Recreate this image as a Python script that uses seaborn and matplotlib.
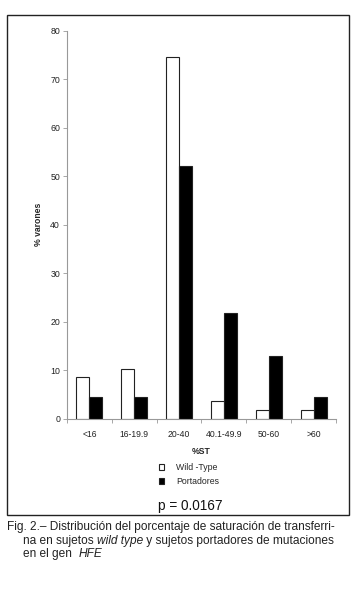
import matplotlib
matplotlib.use("Agg")
import matplotlib.pyplot as plt
import seaborn as sns
import pandas as pd
from matplotlib.patches import Rectangle

categories = ["<16", "16-19.9", "20-40", "40.1-49.9", "50-60", ">60"]
wild_type = [8.6, 10.3, 74.6, 3.6, 1.8, 1.8]
portadores = [4.4, 4.4, 52.2, 21.7, 13.0, 4.4]
series_names = ["Wild -Type", "Portadores"]
y_ticks = [0, 10, 20, 30, 40, 50, 60, 70, 80]

df = pd.DataFrame({
    "cat": categories * 2,
    "val": wild_type + portadores,
    "serie": [series_names[0]] * len(categories) + [series_names[1]] * len(categories),
})

sns.set_theme(style="white")
plt.rcParams["font.family"] = ["Liberation Sans", "DejaVu Sans"]

W, H = 357, 594
fig = plt.figure(figsize=(W / 100, H / 100), dpi=100)
ax = fig.add_axes([67 / W, 1 - 418.7 / H, (336 - 67) / W, (418.7 - 30.7) / H])

sns.barplot(data=df, x="cat", y="val", hue="serie", order=categories,
            hue_order=series_names, palette=["white", "black"],
            width=0.58, edgecolor="#222222", linewidth=0.8, ax=ax, legend=True)

ax.set_xlim(-0.5, len(categories) - 0.5)
ax.set_ylim(0, 80)
ax.set_yticks(y_ticks)
ax.set_yticklabels([str(t) for t in y_ticks], fontsize=6.3, color="#222222")
ax.set_xticks(range(len(categories)))
ax.set_xticklabels(categories, fontsize=6.2, color="#222222")
ax.set_xticks([i - 0.5 for i in range(len(categories) + 1)], minor=True)
ax.tick_params(axis="x", which="major", length=0, pad=8)
ax.tick_params(axis="x", which="minor", length=3, color="#999999", width=0.6, direction="out", bottom=True)
ax.tick_params(axis="y", which="major", length=3, color="#999999", width=0.6, direction="out", left=True, pad=2)

for s in ["top", "right"]:
    ax.spines[s].set_visible(False)
for s in ["left", "bottom"]:
    ax.spines[s].set_color("#999999")
    ax.spines[s].set_linewidth(0.8)

ax.set_xlabel("%ST", fontsize=6.2, fontweight="bold", labelpad=6)
ax.set_ylabel("% varones", fontsize=6.2, fontweight="bold", labelpad=5)

handles, labels = ax.get_legend_handles_labels()
ax.legend(handles, labels, loc="upper left", bbox_to_anchor=(159 / W, 1 - 463 / H),
          bbox_transform=fig.transFigure, frameon=False, fontsize=6.3,
          handlelength=0.6, handleheight=0.6, handletextpad=1.4,
          labelspacing=0.6, borderpad=0, borderaxespad=0)

fig.text(190 / W, 1 - 506 / H, "p = 0.0167", fontsize=9.8, ha="center", va="center", color="#111111")

fig.add_artist(Rectangle((7 / W, 1 - 515 / H), 342 / W, 500 / H, transform=fig.transFigure,
                         fill=False, edgecolor="#222222", linewidth=1.0))

# Caption built from plain and italic pieces placed side by side
renderer = fig.canvas.get_renderer()
cap_fs = 8.6
caption_lines = [
    (7, 527, [("Fig. 2.– Distribución del porcentaje de saturación de transferri-", "normal")]),
    (23, 540.7, [("na en sujetos ", "normal"), ("wild type", "italic"),
                 (" y sujetos portadores de mutaciones", "normal")]),
    (23, 554.3, [("en el gen  ", "normal"), ("HFE", "italic")]),
]
for x0, y0, pieces in caption_lines:
    x = x0
    for txt, style in pieces:
        t = fig.text(x / W, 1 - y0 / H, txt, fontsize=cap_fs, style=style,
                     ha="left", va="center", color="#222222")
        bb = t.get_window_extent(renderer=renderer)
        x += bb.width

fig.savefig("out.png", dpi=100, facecolor="white")
